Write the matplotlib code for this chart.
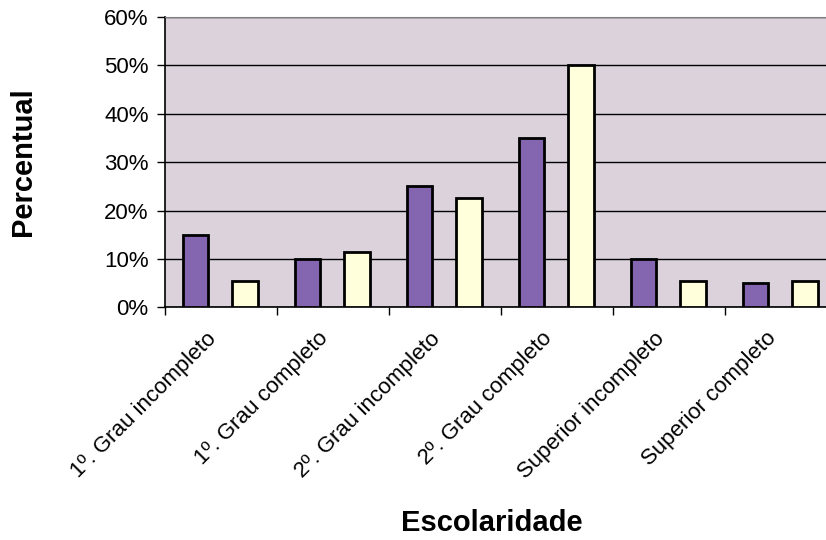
import numpy as np
import matplotlib.pyplot as plt
from matplotlib.ticker import FixedLocator, PercentFormatter
from matplotlib.transforms import ScaledTranslation

plt.rcParams['font.family'] = ['Liberation Sans', 'DejaVu Sans']

categories = ['1º. Grau incompleto', '1º. Grau completo', '2º. Grau incompleto',
              '2º. Grau completo', 'Superior incompleto', 'Superior completo']
serie_a = [15, 10, 25, 35, 10, 5]          # roxo
serie_b = [5.5, 11.5, 22.5, 50, 5.5, 5.5]  # amarelo

fig = plt.figure(figsize=(8.26, 5.40), dpi=100)
ax = fig.add_axes([0.2, 0.431, 0.8136, 0.5375])

x = np.arange(len(categories))
w = 0.23
ax.bar(x + 0.27, serie_a, w, align='center', color='#8466b0',
       edgecolor='black', linewidth=2, zorder=3)
ax.bar(x + 0.71, serie_b, w, align='center', color='#ffffdc',
       edgecolor='black', linewidth=2, zorder=3)

ax.set_facecolor('#dbd2dc')
ax.set_xlim(0, len(categories))
ax.set_ylim(0, 60)
ax.set_yticks(np.arange(0, 61, 10))
ax.yaxis.set_major_formatter(PercentFormatter(decimals=0))
ax.yaxis.grid(True, color='black', linewidth=1, zorder=1)

# ticks nas divisas entre grupos, rótulos no centro de cada grupo
ax.xaxis.set_major_locator(FixedLocator(np.arange(len(categories) + 1)))
ax.xaxis.set_minor_locator(FixedLocator(x + 0.5))
ax.set_xticklabels([])
ax.set_xticklabels(categories, minor=True, rotation=45, ha='right',
                   rotation_mode='anchor', fontsize=16)
ax.tick_params(axis='x', which='minor', length=0, pad=15)
ax.tick_params(axis='x', which='major', length=6, width=1, direction='out')
ax.tick_params(axis='y', length=6, width=1, direction='out', labelsize=16, pad=6)
shift = ScaledTranslation(-11 / 72, 0, fig.dpi_scale_trans)
for lab in ax.get_xticklabels(minor=True):
    lab.set_transform(lab.get_transform() + shift)

ax.spines['right'].set_visible(False)
ax.spines['top'].set_color('#808080')
ax.spines['left'].set_linewidth(1.2)
ax.spines['bottom'].set_linewidth(1.2)

fig.text(0.028, 0.70, 'Percentual', rotation=90, ha='center', va='center',
         fontsize=21, fontweight='bold')
fig.text(0.595, 0.032, 'Escolaridade', ha='center', va='center',
         fontsize=21, fontweight='bold')

fig.savefig('out.png', dpi=100)
